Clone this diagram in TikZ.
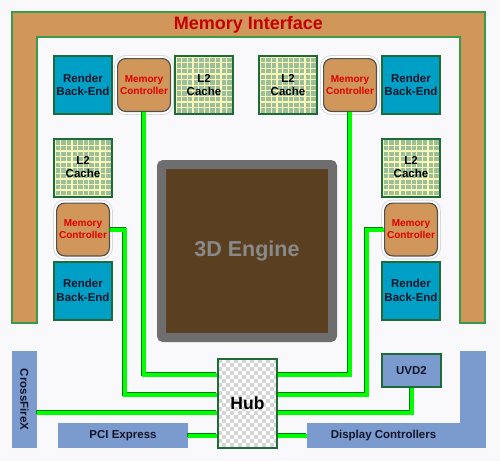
\documentclass[tikz,border=0pt]{standalone}
\usepackage{fontspec}
\setmainfont{Liberation Sans}
\usetikzlibrary{positioning}
\definecolor{bgwhite}{HTML}{F9F9FC}
\definecolor{membrown}{HTML}{D0965A}
\definecolor{framegreen}{HTML}{3A9A4A}
\definecolor{boxgreen}{HTML}{1E6B3A}
\definecolor{rbeblue}{HTML}{00A0C6}
\definecolor{sage}{HTML}{9CBF9A}
\definecolor{cacheyellow}{HTML}{FAFAB8}
\definecolor{ioblue}{HTML}{7B9BCF}
\definecolor{navy}{HTML}{141428}
\definecolor{ctlred}{HTML}{E00000}
\definecolor{titlered}{HTML}{C40000}
\definecolor{ctlgray}{HTML}{505050}
\definecolor{enginebrown}{HTML}{5B3F21}
\definecolor{enginegray}{HTML}{6E6E6E}
\definecolor{enginetext}{HTML}{8A8A8A}
\definecolor{checkgray}{HTML}{D4D4D4}
\definecolor{busgreen}{HTML}{00FF00}
\definecolor{busdark}{HTML}{0A7A1A}

\begin{document}
\begin{tikzpicture}[x=1pt,y=-1pt]
	\tikzstyle{frame} = [fill=membrown, draw=framegreen, line width=1.5pt]
	\tikzstyle{rbe} = [rectangle, draw=boxgreen, line width=2pt, fill=rbeblue, minimum width=58, minimum height=58, inner sep=0pt, align=center, text=navy, font=\bfseries\fontsize{11.5}{13.5}\selectfont]
	\tikzstyle{cache} = [rectangle, draw=boxgreen, line width=2pt, fill=cacheyellow, minimum width=58, minimum height=58, inner sep=0pt, align=center, text=black, font=\bfseries\fontsize{11.5}{13}\selectfont,
		path picture={\foreach \i in {0,...,9} \foreach \j in {0,...,9} \fill[sage] ([shift={(1.8+5.6*\i,1.8+5.6*\j)}]path picture bounding box.north west) rectangle ++(4.3,4.3);}]
	\tikzstyle{memctl} = [rectangle, rounded corners=8pt, draw=ctlgray, line width=1.2pt, fill=membrown, minimum width=52.8, minimum height=52.8, inner sep=1pt, align=center, text=ctlred, font=\bfseries\fontsize{10}{12}\selectfont, preaction={draw=gray!30, line width=7pt}, preaction={draw=white, line width=5pt}]
	\tikzstyle{ioblock} = [rectangle, fill=ioblue, inner sep=0pt, text=navy, font=\bfseries\fontsize{11.5}{13.5}\selectfont]
	\tikzstyle{bus} = [draw=busgreen, line width=4pt, preaction={draw=busdark, line width=4pt, transform canvas={shift={(-0.8pt,0.8pt)}}}]

	\useasboundingbox (0,0) rectangle (500,461);
	\fill[bgwhite] (0,0) rectangle (500,461);

	\draw[frame] (12,12) -- (485,12) -- (485,323) -- (460,323) -- (460,37) -- (37,37) -- (37,323) -- (12,323) -- cycle;
	\node[text=titlered, font=\bfseries\fontsize{18}{20}\selectfont] (memif) at (248.5,24.5) {Memory Interface};

	\node [rbe] (rbeA) at (83,85) {Render\\Back-End};
	\node [memctl, right=4pt of rbeA] (mcA) {Memory\\Controller};
	\node [cache, right=3pt of mcA] (l2A) {L2\\Cache};
	\node [rbe] (rbeB) at (411,85) {Render\\Back-End};
	\node [memctl, left=4pt of rbeB] (mcB) {Memory\\Controller};
	\node [cache, left=5pt of mcB] (l2B) {L2\\Cache};
	\node [cache] (l2C) at (83,167.5) {L2\\Cache};
	\node [memctl, below=5pt of l2C] (mcC) {Memory\\Controller};
	\node [rbe, below=4pt of mcC] (rbeC) {Render\\Back-End};
	\node [cache] (l2D) at (411,167.5) {L2\\Cache};
	\node [memctl, below=5pt of l2D] (mcD) {Memory\\Controller};
	\node [rbe, below=4pt of mcD] (rbeD) {Render\\Back-End};

	\node [rectangle, rounded corners=2pt, draw=enginegray, line width=9pt, fill=enginebrown, minimum width=171, minimum height=173, text=enginetext, font=\bfseries\fontsize{21.5}{24}\selectfont] (engine) at (247,251) {3D Engine};

	\node [rectangle, draw=boxgreen, line width=2pt, fill=white, minimum width=59, minimum height=89, text=black, font=\bfseries\fontsize{17.5}{20}\selectfont,
		path picture={\foreach \i [evaluate=\i as \off using {4*mod(\i,2)}] in {0,...,15} \foreach \j in {0,8,...,88} \fill[checkgray] ([shift={(4*\i,\j+\off)}]path picture bounding box.north west) rectangle ++(4,4);}] (hub) at (247.5,403.5) {Hub};

	\node [ioblock, minimum width=25, minimum height=97] (xfire) at (24.5,399.5) {\rotatebox{-90}{CrossFireX}};
	\node [ioblock, minimum width=130, minimum height=25] (pci) at (123,435.5) {PCI Express};
	\fill[ioblue] (460,351) rectangle (486,448);
	\node [ioblock, minimum width=153, minimum height=25] (disp) at (383.5,435.5) {Display Controllers};
	\node [ioblock, draw=boxgreen, line width=2pt, minimum width=59, minimum height=33] (uvd) at (411.5,370.5) {UVD2};

	\coordinate (busA) at (0,375);
	\coordinate (busB) at (0,395);
	\coordinate (busC) at (0,413);
	\coordinate (jogL) at (125,395);
	\coordinate (jogR) at (367,395);

	\path[bus] (mcA.south) |- (hub.west |- busA);
	\path[bus] (mcC.east) -| (jogL) -- (hub.west |- busB);
	\path[bus] (xfire.east |- busC) -- (hub.west |- busC);
	\path[bus] (pci.east) -- (hub.west |- pci.east);
	\path[bus] (mcB.south) |- (hub.east |- busA);
	\path[bus] (mcD.west) -| (jogR) -- (hub.east |- busB);
	\path[bus] (uvd.south) |- (hub.east |- busC);
	\path[bus] (hub.east |- disp.west) -- (disp.west);
\end{tikzpicture}
\end{document}
